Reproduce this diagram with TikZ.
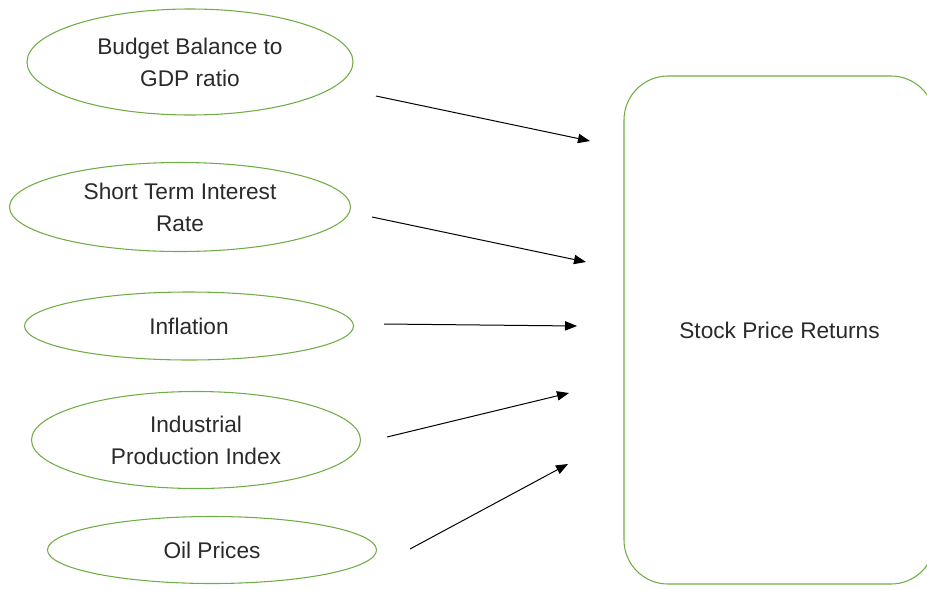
\documentclass[tikz,border=0pt]{standalone}
\usepackage{fontspec}
\setmainfont{Liberation Sans}
\usetikzlibrary{shapes.geometric, arrows.meta}

\definecolor{leafgreen}{HTML}{70AD47}
\definecolor{txtgray}{HTML}{2A2A2A}

\begin{document}
\begin{tikzpicture}[x=0.75pt, y=-0.75pt,
  factor/.style={ellipse, draw=leafgreen, line width=0.8pt, text=txtgray, align=center, inner sep=0pt, font=\fontsize{17}{24}\selectfont},
  result/.style={rectangle, rounded corners=33pt, draw=leafgreen, line width=0.8pt, text=txtgray, align=center, font=\fontsize{17}{24}\selectfont},
  link/.style={-{Triangle[length=9pt, width=7pt]}, line width=0.75pt}]
\clip (0,0) rectangle (927,589);

% Nodes
\node[factor, minimum width=244.5pt, minimum height=79.5pt] (budget) at (190,62) {Budget Balance to\\GDP ratio};
\node[factor, minimum width=255.75pt, minimum height=66.75pt] (interest) at (180,207) {Short Term Interest\\Rate};
\node[factor, minimum width=246.75pt, minimum height=51pt] (inflation) at (189,326) {Inflation};
\node[factor, minimum width=246.75pt, minimum height=72.75pt] (industry) at (196,440) {Industrial\\Production Index};
\node[factor, minimum width=246.75pt, minimum height=50.25pt] (oil) at (212,550) {Oil Prices};
\node[result, minimum width=233.25pt, minimum height=381pt] (returns) at (779.5,330) {Stock Price Returns};

% Arrow ends
\coordinate (budgetout) at (376,96);
\coordinate (budgetin) at (590,141);
\coordinate (interestout) at (372,217);
\coordinate (interestin) at (586,262);
\coordinate (inflationout) at (384,324);
\coordinate (inflationin) at (577,326);
\coordinate (industryout) at (387,437);
\coordinate (industryin) at (569,393);
\coordinate (oilout) at (410,549);
\coordinate (oilin) at (568,464);

% Edges
\draw[link] (budgetout) -- (budgetin);
\draw[link] (interestout) -- (interestin);
\draw[link] (inflationout) -- (inflationin);
\draw[link] (industryout) -- (industryin);
\draw[link] (oilout) -- (oilin);
\end{tikzpicture}
\end{document}
